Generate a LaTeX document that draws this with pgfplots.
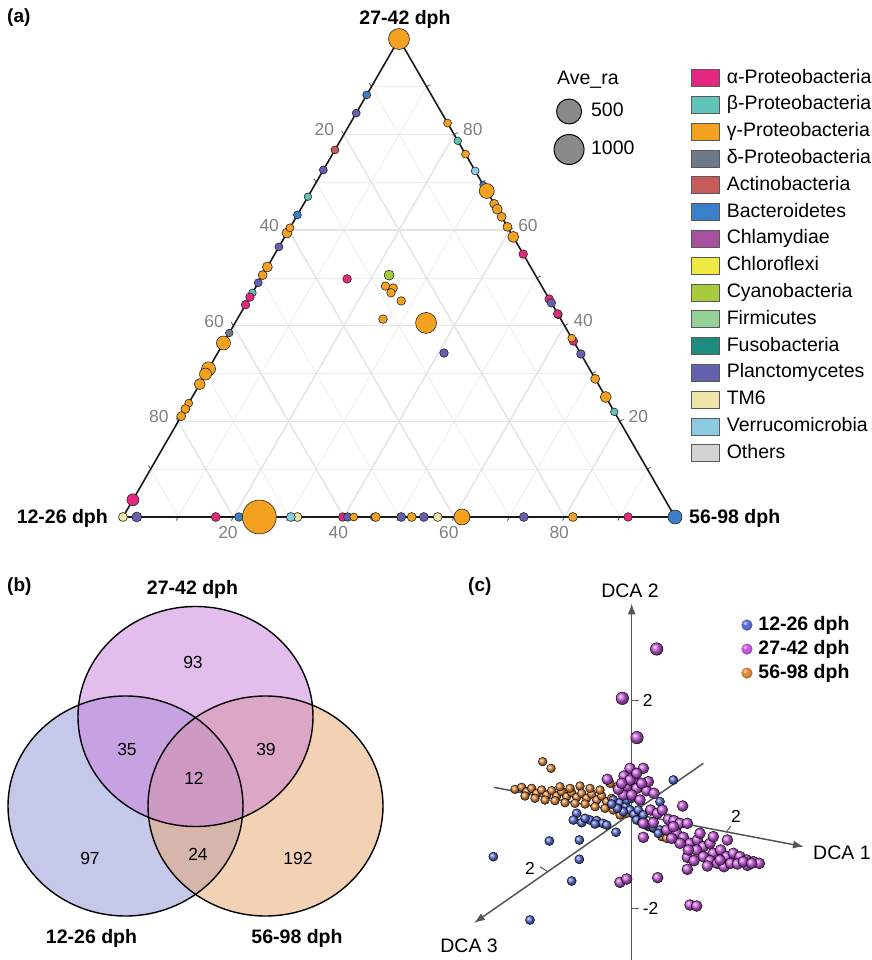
\documentclass[border=0pt]{standalone}
\usepackage{pgfplots}
\pgfplotsset{compat=1.18}
\usepackage{pgfplotstable}
\usepackage{fontspec}
\setmainfont{Liberation Sans}
\usetikzlibrary{arrows.meta}

\definecolor{cAlp}{HTML}{E5287F}
\definecolor{cBet}{HTML}{5FC4BA}
\definecolor{cGam}{HTML}{F4A11F}
\definecolor{cDel}{HTML}{6C7A89}
\definecolor{cAct}{HTML}{C75B5B}
\definecolor{cBac}{HTML}{3A80C9}
\definecolor{cChl}{HTML}{A5519E}
\definecolor{cCfx}{HTML}{EFE943}
\definecolor{cCya}{HTML}{A8CB3B}
\definecolor{cFir}{HTML}{96D197}
\definecolor{cFus}{HTML}{1E8B80}
\definecolor{cPla}{HTML}{6460AE}
\definecolor{cTM}{HTML}{EDE5A6}
\definecolor{cVer}{HTML}{8DCBE3}
\definecolor{cOth}{HTML}{D3D3D3}
\definecolor{cTick}{HTML}{808080}
\definecolor{gMaj}{HTML}{E3E3E3}
\definecolor{gMin}{HTML}{EDEDED}
\definecolor{sGray}{HTML}{8A8A8A}
\definecolor{vTop}{HTML}{C77DDB}
\definecolor{vLeft}{HTML}{8C92D4}
\definecolor{vRight}{HTML}{E6A46B}
\definecolor{dBlue}{HTML}{5B6FD6}
\definecolor{dPur}{HTML}{C95ADF}
\definecolor{dOra}{HTML}{E08A3C}
\definecolor{axc}{HTML}{555555}

\newcommand\fA{\fontsize{19.5bp}{23bp}\selectfont}
\newcommand\fB{\fontsize{19bp}{23bp}\selectfont}
\newcommand\fT{\fontsize{17.4bp}{21bp}\selectfont}
\newcommand\fV{\fontsize{17.5bp}{21bp}\selectfont}

\tikzset{tl/.style={font=\fT, text=cTick, inner sep=0pt}}
\pgfplotsset{
  bub/.style={forget plot, scatter, only marks, mark=*,
    scatter/use mapped color={draw=black!85, fill=#1, line width=0.6bp},
    visualization depends on={\thisrow{r}\as\rad},
    scatter/@pre marker code/.append style={/tikz/mark size=\rad}},
  table/tern/.style={x expr={\thisrow{b}+0.5*\thisrow{c}}, y expr={0.8660254*\thisrow{c}}},
}

% ternary data: b = % 56-98 dph, c = % 27-42 dph, r = marker radius (Ave_ra)
\pgfplotstableread{
b c r
0 46.0 4.3
0 44.4 4.3
0 3.6 6
45 55 4.3
54.4 45.6 4.3
57.5 42.5 4.3
63.2 36.8 4.3
16.8 0 4.5
39.8 0 4.3
91.5 0 4.3
15.7 49.8 4.3
}\tAlp
\pgfplotstableread{
b c r
0 67 3.8
0 46.9 3.8
21.3 78.7 3.8
78 22 3.8
}\tBet
\pgfplotstableread{
b c r
0 100 10.5
0 59.4 5
0 60.5 4
0 52.3 5
0 50.6 4.5
0 36.4 7
0 31 7
0 29.9 6
0 27.8 5.5
0 23.8 4
0 22.6 4.5
0 21.1 4.5
17.6 82.4 4
24.1 75.9 4
31.8 68.2 7.5
34.5 65.5 4.5
35.6 64.4 5
37.2 62.8 4.5
39.3 60.7 4.5
41.4 58.6 5.5
62.6 37.4 4
71.1 28.9 4.5
74.9 25.1 5.5
24.7 0 17
41.8 0 4
45.8 0 4.5
52.3 0 4.5
61.4 0 8
81.5 0 4.5
23.4 48.3 4.3
25.0 47.9 4.3
25.1 46.9 4.3
27.8 45.2 4.3
26.4 41.4 4.3
34.6 40.6 10.5
}\tGam
\pgfplotstableread{
b c r
0 38.5 3.8
45.5 0 4
}\tDel
\pgfplotstableread{
b c r
0 76.8 4
57.7 42.3 4
}\tAct
\pgfplotstableread{
b c r
0 88.3 4
0 63.2 4
30.5 69.5 3.5
21 0 4.3
100 0 7
}\tBac
\pgfplotstableread{
b c r
22.9 50.6 5
}\tCya
\pgfplotstableread{
b c r
0 84.5 4
0 72.6 4
0 56.5 4
0 49 4
55.2 44.8 4.3
65.9 34.1 4.3
2.5 0 5
40.7 0 4.3
50.4 0 4.5
54.5 0 4.5
72.6 0 4.5
41.0 34.3 4.3
}\tPla
\pgfplotstableread{
b c r
0 0 4.5
31.6 0 4.5
57 0 4.5
}\tTM
\pgfplotstableread{
b c r
27.6 72.4 4
30.4 0 4.5
}\tVer

% DCA projected positions (panel c, screen units)
\pgfplotstableread{
x y
188 545
213 565
105 628
125 622
140 635
155 625
170 640
185 630
200 645
215 632
230 648
245 635
260 650
275 638
290 652
300 618
305 640
320 655
335 642
350 660
365 648
380 665
395 655
410 670
135 648
165 655
195 660
225 662
255 668
285 670
315 672
345 680
375 685
400 690
420 705
410 620
390 610
240 620
270 625
330 625
360 630
430 680
440 700
505 740
520 745
545 770
560 775
}\dOr
\pgfplotstableread{
x y
580 600
540 665
510 690
400 660
420 668
438 678
450 690
462 703
430 695
412 685
395 672
470 720
485 728
500 735
520 742
540 750
440 660
455 655
475 690
490 705
290 700
280 720
305 728
330 720
350 722
368 730
380 735
345 732
315 715
408 757
298 780
208 783
298 838
40 830
275 903
150 1020
535 760
}\dBl
\pgfplotstableread{
x y
530 207
427 355
471 473
}\dPuBig
\pgfplotstableread{
x y
450 565
432 588
462 598
490 565
440 620
470 625
500 632
430 645
455 645
522 640
382 598
415 628
480 660
512 690
532 700
547 690
565 718
582 722
608 678
600 730
622 730
490 730
520 728
450 600
470 580
425 610
505 605
485 610
560 750
590 760
610 772
630 790
652 780
670 800
690 790
700 820
722 810
742 780
740 830
760 820
780 830
800 840
820 845
838 850
650 810
670 830
690 842
712 850
732 860
752 850
772 852
802 856
682 858
622 832
642 842
600 790
625 810
575 775
660 760
700 770
720 840
790 845
815 850
580 740
490 772
420 907
440 897
533 893
622 868
630 975
650 978
}\dPu

\begin{document}
\begin{tikzpicture}[font=\fA]
\useasboundingbox (0,0) rectangle (872bp,960bp);

% ---------------- (a) ternary ----------------
\begin{axis}[at={(123bp,443bp)}, anchor=south west, scale only axis,
  width=552bp, height=478bp, xmin=0, xmax=100, ymin=0, ymax=86.60254,
  hide axis, clip=false,
  legend image code/.code={\draw[#1, draw=black!65, line width=0.8bp] (0bp,-8.5bp) rectangle (28bp,8.5bp);},
  legend cell align=left,
  legend style={at={(1.029,0.9372)}, anchor=north west, draw=none, fill=none,
    inner sep=0pt, outer sep=0pt, row sep=8.8bp, column sep=7bp, font=\fA,
    nodes={inner sep=0pt, text height=14bp, text depth=4bp}}]
\pgfplotsinvokeforeach{10,30,50,70,90}{
  \draw[gMin, line width=0.9bp] (axis cs:{0.5*#1},{0.8660254*#1}) -- (axis cs:{100-0.5*#1},{0.8660254*#1});
  \draw[gMin, line width=0.9bp] (axis cs:#1,0) -- (axis cs:{50+0.5*#1},{86.60254-0.8660254*#1});
  \draw[gMin, line width=0.9bp] (axis cs:{50-0.5*#1},{86.60254-0.8660254*#1}) -- (axis cs:{100-#1},0);
}
\pgfplotsinvokeforeach{20,40,60,80}{
  \draw[gMaj, line width=1.4bp] (axis cs:{0.5*#1},{0.8660254*#1}) -- (axis cs:{100-0.5*#1},{0.8660254*#1});
  \draw[gMaj, line width=1.4bp] (axis cs:#1,0) -- (axis cs:{50+0.5*#1},{86.60254-0.8660254*#1});
  \draw[gMaj, line width=1.4bp] (axis cs:{50-0.5*#1},{86.60254-0.8660254*#1}) -- (axis cs:{100-#1},0);
}
\pgfplotsinvokeforeach{10,20,30,40,50,60,70,80,90}{
  \draw[axc, line width=0.8bp] (axis cs:#1,0) -- (axis cs:{#1-0.375},-0.65);
  \draw[axc, line width=0.8bp] (axis cs:{50-0.5*#1},{86.60254-0.8660254*#1}) -- (axis cs:{50-0.5*#1-0.375},{86.60254-0.8660254*#1+0.65});
  \draw[axc, line width=0.8bp] (axis cs:{100-0.5*#1},{0.8660254*#1}) -- (axis cs:{100-0.5*#1+0.65},{0.8660254*#1+0.375});
}
\draw[black!90, line width=1.6bp, line join=round] (axis cs:0,0) -- (axis cs:50,86.60254) -- (axis cs:100,0) -- cycle;

\addplot[bub=cTM] table[tern] {\tTM};
\addplot[bub=cVer] table[tern] {\tVer};
\addplot[bub=cBet] table[tern] {\tBet};
\addplot[bub=cDel] table[tern] {\tDel};
\addplot[bub=cAct] table[tern] {\tAct};
\addplot[bub=cAlp] table[tern] {\tAlp};
\addplot[bub=cPla] table[tern] {\tPla};
\addplot[bub=cBac] table[tern] {\tBac};
\addplot[bub=cCya] table[tern] {\tCya};
\addplot[bub=cGam] table[tern] {\tGam};

\node[tl, anchor=east, xshift=-9.5bp, yshift=4.7bp] at (axis cs:40,69.282) {20};
\node[tl, anchor=east, xshift=-9.5bp, yshift=4.7bp] at (axis cs:30,51.962) {40};
\node[tl, anchor=east, xshift=-9.5bp, yshift=4.7bp] at (axis cs:20,34.641) {60};
\node[tl, anchor=east, xshift=-9.5bp, yshift=4.7bp] at (axis cs:10,17.321) {80};
\node[tl, anchor=west, xshift=8.7bp, yshift=4.8bp] at (axis cs:60,69.282) {80};
\node[tl, anchor=west, xshift=8.7bp, yshift=4.8bp] at (axis cs:70,51.962) {60};
\node[tl, anchor=west, xshift=8.7bp, yshift=4.8bp] at (axis cs:80,34.641) {40};
\node[tl, anchor=west, xshift=8.7bp, yshift=4.8bp] at (axis cs:90,17.321) {20};
\node[tl, xshift=-5.4bp, yshift=-16bp] at (axis cs:20,0) {20};
\node[tl, xshift=-5.4bp, yshift=-16bp] at (axis cs:40,0) {40};
\node[tl, xshift=-5.4bp, yshift=-16bp] at (axis cs:60,0) {60};
\node[tl, xshift=-5.4bp, yshift=-16bp] at (axis cs:80,0) {80};

\addlegendimage{fill=cAlp}\addlegendentry{α-Proteobacteria}
\addlegendimage{fill=cBet}\addlegendentry{β-Proteobacteria}
\addlegendimage{fill=cGam}\addlegendentry{γ-Proteobacteria}
\addlegendimage{fill=cDel}\addlegendentry{δ-Proteobacteria}
\addlegendimage{fill=cAct}\addlegendentry{Actinobacteria}
\addlegendimage{fill=cBac}\addlegendentry{Bacteroidetes}
\addlegendimage{fill=cChl}\addlegendentry{Chlamydiae}
\addlegendimage{fill=cCfx}\addlegendentry{Chloroflexi}
\addlegendimage{fill=cCya}\addlegendentry{Cyanobacteria}
\addlegendimage{fill=cFir}\addlegendentry{Firmicutes}
\addlegendimage{fill=cFus}\addlegendentry{Fusobacteria}
\addlegendimage{fill=cPla}\addlegendentry{Planctomycetes}
\addlegendimage{fill=cTM}\addlegendentry{TM6}
\addlegendimage{fill=cVer}\addlegendentry{Verrucomicrobia}
\addlegendimage{fill=cOth}\addlegendentry{Others}
\end{axis}

% size legend
\begin{axis}[at={(123bp,443bp)}, anchor=south west, scale only axis,
  width=552bp, height=478bp, xmin=0, xmax=1, ymin=0, ymax=1, hide axis,
  legend cell align=left,
  legend style={at={(0.780,0.8755)}, anchor=north west, draw=none, fill=none,
    inner sep=0pt, outer sep=0pt, row sep=9.5bp, column sep=6.5bp, font=\fA,
    nodes={inner sep=0pt, text height=14bp, text depth=4bp}}]
\addlegendimage{legend image code/.code={\draw[fill=sGray, draw=black, line width=1bp] (0bp,0bp) circle (12.5bp);}}
\addlegendentry{500}
\addlegendimage{legend image code/.code={\draw[fill=sGray, draw=black, line width=1bp] (0bp,0bp) circle (15bp);}}
\addlegendentry{1000}
\end{axis}

% ---------------- (b) Venn ----------------
\begin{axis}[at={(0bp,0bp)}, anchor=south west, scale only axis,
  width=480bp, height=380bp, xmin=0, xmax=480, ymin=0, ymax=380,
  hide axis, clip=false]
\fill[vLeft, fill opacity=0.5] (axis cs:125.5,154) ellipse [x radius=117.5bp, y radius=110bp];
\fill[vRight, fill opacity=0.5] (axis cs:265.5,154) ellipse [x radius=117.5bp, y radius=110bp];
\fill[vTop, fill opacity=0.5] (axis cs:195.5,243.5) ellipse [x radius=117.5bp, y radius=110bp];
\draw[black, line width=1.4bp] (axis cs:125.5,154) ellipse [x radius=117.5bp, y radius=110bp];
\draw[black, line width=1.4bp] (axis cs:265.5,154) ellipse [x radius=117.5bp, y radius=110bp];
\draw[black, line width=1.4bp] (axis cs:195.5,243.5) ellipse [x radius=117.5bp, y radius=110bp];
\addplot[forget plot, only marks, mark=none, nodes near coords, point meta=explicit symbolic,
  every node near coord/.append style={anchor=center, inner sep=0pt, font=\fV, text=black}]
  coordinates {(193,298) [93] (127,211) [35] (266,211) [39] (194,182) [12] (90,102) [97] (198,106) [24] (298,102) [192]};
\end{axis}

% ---------------- (c) DCA ----------------
\begin{axis}[at={(480bp,380bp)}, anchor=north west, scale only axis,
  width=392bp, height=380bp, xmin=0, xmax=1176, ymin=0, ymax=1140, y dir=reverse,
  hide axis, clip=false,
  legend cell align=left,
  legend style={at={(0.667,0.905)}, anchor=north west, draw=none, fill=none,
    inner sep=0pt, outer sep=0pt, row sep=6bp, column sep=6bp, font=\fA\bfseries,
    nodes={inner sep=0pt, text height=14bp, text depth=4bp}}]
\addlegendimage{legend image code/.code={\fill[dBlue!80!black] (0bp,0bp) circle (5.3bp); \fill[dBlue] (-0.5bp,0.5bp) circle (4.2bp); \fill[white, opacity=0.45] (-1.6bp,1.6bp) circle (1.7bp);}}
\addlegendentry{12-26 dph}
\addlegendimage{legend image code/.code={\fill[dPur!80!black] (0bp,0bp) circle (5.3bp); \fill[dPur] (-0.5bp,0.5bp) circle (4.2bp); \fill[white, opacity=0.45] (-1.6bp,1.6bp) circle (1.7bp);}}
\addlegendentry{27-42 dph}
\addlegendimage{legend image code/.code={\fill[dOra!80!black] (0bp,0bp) circle (5.3bp); \fill[dOra] (-0.5bp,0.5bp) circle (4.2bp); \fill[white, opacity=0.45] (-1.6bp,1.6bp) circle (1.7bp);}}
\addlegendentry{56-98 dph}

\draw[axc, line width=1.5bp, -{Latex[length=11bp,width=8bp]}] (axis cs:455,1140) -- (axis cs:455,70);
\draw[axc, line width=1.5bp, -{Latex[length=11bp,width=8bp]}] (axis cs:42,622) -- (axis cs:972,800);
\draw[axc, line width=1.5bp, -{Latex[length=11bp,width=8bp]}] (axis cs:670,550) -- (axis cs:-18,1029);
\draw[axc, line width=1bp] (axis cs:455,360) -- (axis cs:478,360);
\draw[axc, line width=1bp] (axis cs:455,985) -- (axis cs:478,985);
\draw[axc, line width=1bp] (axis cs:738,758) -- (axis cs:752,738);
\draw[axc, line width=1bp] (axis cs:205,876) -- (axis cs:180,860);
\node[font=\fT, anchor=west, inner sep=0pt] at (axis cs:488,360) {2};
\node[font=\fT, anchor=west, inner sep=0pt] at (axis cs:488,985) {-2};
\node[font=\fT, inner sep=0pt] at (axis cs:768,710) {2};
\node[font=\fT, inner sep=0pt] at (axis cs:150,865) {2};

\addplot[forget plot, only marks, mark=ball, mark size=4.4, mark options={ball color=dOra}] table {\dOr};
\addplot[forget plot, only marks, mark=ball, mark size=4.6, mark options={ball color=dBlue}] table {\dBl};
\addplot[forget plot, only marks, mark=ball, mark size=5.5, mark options={ball color=dPur}] table {\dPu};
\addplot[forget plot, only marks, mark=ball, mark size=6.3, mark options={ball color=dPur}] table {\dPuBig};
\end{axis}

% ---------------- texts ----------------
\node[anchor=base west, inner sep=0pt, font=\fB\bfseries] at (7bp,937bp) {(a)};
\node[anchor=base, inner sep=0pt, font=\fA\bfseries] at (405bp,935bp) {27-42 dph};
\node[anchor=base east, inner sep=0pt, font=\fA\bfseries] at (108bp,436bp) {12-26 dph};
\node[anchor=base west, inner sep=0pt, font=\fA\bfseries] at (689bp,436bp) {56-98 dph};
\node[anchor=base west, inner sep=0pt] at (557bp,875bp) {Ave\_ra};
\node[anchor=base west, inner sep=0pt, font=\fB\bfseries] at (7bp,368bp) {(b)};
\node[anchor=base west, inner sep=0pt, font=\fB\bfseries] at (468bp,368bp) {(c)};
\node[anchor=base, inner sep=0pt, font=\fA\bfseries] at (192.5bp,365bp) {27-42 dph};
\node[anchor=base, inner sep=0pt, font=\fA\bfseries] at (91.5bp,17bp) {12-26 dph};
\node[anchor=base, inner sep=0pt, font=\fA\bfseries] at (297bp,17bp) {56-98 dph};
\node[anchor=base, inner sep=0pt] at (630bp,362bp) {DCA 2};
\node[anchor=base west, inner sep=0pt] at (813bp,100bp) {DCA 1};
\node[anchor=base east, inner sep=0pt] at (498bp,8bp) {DCA 3};
\end{tikzpicture}
\end{document}
